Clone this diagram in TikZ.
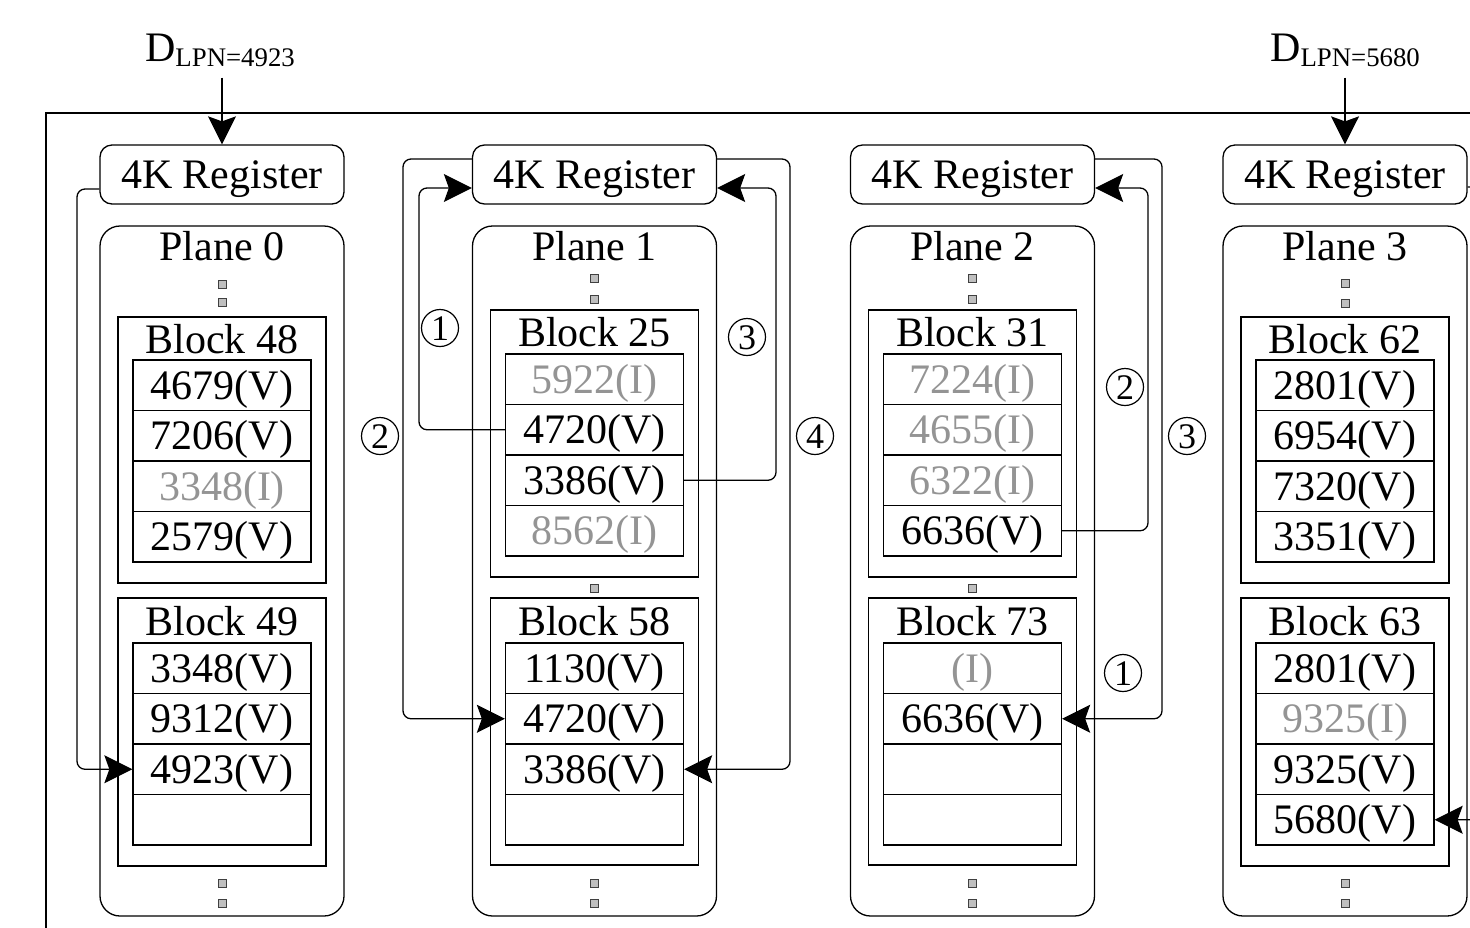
\documentclass[tikz,border=0pt]{standalone}
\usepackage{fontspec}
\setmainfont{Liberation Serif}
\usetikzlibrary{arrows.meta}
\newcommand\bigtxt{\fontsize{21}{25}\selectfont}
\newcommand\subtxt{\fontsize{13.4}{15}\selectfont}
\newcommand\circtxt{\fontsize{18}{20}\selectfont}
\definecolor{invgray}{gray}{0.58}
\definecolor{dotgray}{gray}{0.75}
\tikzset{
  wire/.style={line width=0.65pt, rounded corners=4pt},
  arr/.style={wire, -{Stealth[length=14pt,width=14pt,inset=2.5pt]}},
  reg/.style={draw, line width=0.65pt, rounded corners=6pt, minimum width=122pt, minimum height=29.5pt, inner sep=0pt, font=\bigtxt, text height=18.5pt, text depth=4.5pt},
  plane/.style={draw, line width=0.65pt, rounded corners=10pt, minimum width=122pt, minimum height=345pt, inner sep=0pt},
  blk/.style={draw, line width=0.65pt, minimum width=104pt, inner sep=0pt},
  cell/.style={draw, line width=0.65pt, minimum width=89pt, minimum height=25.25pt, inner sep=0pt, font=\bigtxt, text height=18.5pt, text depth=4.5pt},
  inv/.style={cell, text=invgray},
  dot/.style={draw=black!75, line width=0.5pt, fill=dotgray, minimum size=4pt, inner sep=0pt},
  num/.style={draw, circle, line width=0.6pt, minimum size=18.5pt, inner sep=0pt, font=\circtxt, text height=12pt, text depth=0pt},
  lbl/.style={font=\bigtxt, inner sep=0pt},
}
\begin{document}
\begin{tikzpicture}[x=0.5pt, y=-0.5pt]
\path[use as bounding box, clip] (0,0) rectangle (1470,927);

% outer frame of the chip
\draw[line width=0.65pt] (46,960) -- (46,113) -- (1500,113);

% incoming write requests
\node[lbl, anchor=base, inner ysep=5.5pt] (d0) at (220,61) {D\raisebox{-2.5pt}{\subtxt LPN=4923}};
\node[lbl, anchor=base, inner ysep=5.5pt] (d3) at (1345,61) {D\raisebox{-2.5pt}{\subtxt LPN=5680}};

% ---------------- Plane 0 ----------------
\node[reg] (r0) at (222,174.5) {4K Register};
\node[plane] (p0) at (222,571) {};
\node[lbl] (p0t) at (222,246) {Plane 0};
\node[dot] (p0d1) at (222,284) {};
\node[dot] (p0d2) at (222,302) {};
\node[blk, minimum height=133pt] (b48) at (222,450) {};
\node[lbl] (b48t) at (222,339) {Block 48};
\node[cell] (c0a1) at (222,385.25) {4679(V)};
\node[cell] (c0a2) at (222,435.75) {7206(V)};
\node[inv]  (c0a3) at (222,486.25) {3348(I)};
\node[cell] (c0a4) at (222,536.75) {2579(V)};
\node[blk, minimum height=134pt] (b49) at (222,732) {};
\node[lbl] (b49t) at (222,621) {Block 49};
\node[cell] (c0b1) at (222,668.25) {3348(V)};
\node[cell] (c0b2) at (222,718.75) {9312(V)};
\node[cell] (c0b3) at (222,769.25) {4923(V)};
\node[cell] (c0b4) at (222,819.75) {};
\node[dot] (p0d3) at (222,883) {};
\node[dot] (p0d4) at (222,903) {};

% ---------------- Plane 1 ----------------
\node[reg] (r1) at (594.5,174.5) {4K Register};
\node[plane] (p1) at (594.5,571) {};
\node[lbl] (p1t) at (594.5,246) {Plane 1};
\node[dot] (p1d1) at (594.5,278) {};
\node[dot] (p1d2) at (594.5,299) {};
\node[blk, minimum height=133.5pt] (b25) at (594.5,443.5) {};
\node[lbl] (b25t) at (594.5,332) {Block 25};
\node[inv]  (c1a1) at (594.5,379.25) {5922(I)};
\node[cell] (c1a2) at (594.5,429.75) {4720(V)};
\node[cell] (c1a3) at (594.5,480.25) {3386(V)};
\node[inv]  (c1a4) at (594.5,530.75) {8562(I)};
\node[dot] (p1d3) at (594.5,588) {};
\node[blk, minimum height=133.5pt] (b58) at (594.5,731.5) {};
\node[lbl] (b58t) at (594.5,621) {Block 58};
\node[cell] (c1b1) at (594.5,668.25) {1130(V)};
\node[cell] (c1b2) at (594.5,718.75) {4720(V)};
\node[cell] (c1b3) at (594.5,769.25) {3386(V)};
\node[cell] (c1b4) at (594.5,819.75) {};
\node[dot] (p1d4) at (594.5,883) {};
\node[dot] (p1d5) at (594.5,903) {};

% ---------------- Plane 2 ----------------
\node[reg] (r2) at (972.5,174.5) {4K Register};
\node[plane] (p2) at (972.5,571) {};
\node[lbl] (p2t) at (972.5,246) {Plane 2};
\node[dot] (p2d1) at (972.5,278) {};
\node[dot] (p2d2) at (972.5,299) {};
\node[blk, minimum height=133.5pt] (b31) at (972.5,443.5) {};
\node[lbl] (b31t) at (972.5,332) {Block 31};
\node[inv]  (c2a1) at (972.5,379.25) {7224(I)};
\node[inv]  (c2a2) at (972.5,429.75) {4655(I)};
\node[inv]  (c2a3) at (972.5,480.25) {6322(I)};
\node[cell] (c2a4) at (972.5,530.75) {6636(V)};
\node[dot] (p2d3) at (972.5,588) {};
\node[blk, minimum height=133.5pt] (b73) at (972.5,731.5) {};
\node[lbl] (b73t) at (972.5,621) {Block 73};
\node[inv]  (c2b1) at (972.5,668.25) {(I)};
\node[cell] (c2b2) at (972.5,718.75) {6636(V)};
\node[cell] (c2b3) at (972.5,769.25) {};
\node[cell] (c2b4) at (972.5,819.75) {};
\node[dot] (p2d4) at (972.5,883) {};
\node[dot] (p2d5) at (972.5,903) {};

% ---------------- Plane 3 ----------------
\node[reg] (r3) at (1345,174.5) {4K Register};
\node[plane] (p3) at (1345,571) {};
\node[lbl] (p3t) at (1345,246) {Plane 3};
\node[dot] (p3d1) at (1345,283) {};
\node[dot] (p3d2) at (1345,303) {};
\node[blk, minimum height=133pt] (b62) at (1345,450) {};
\node[lbl] (b62t) at (1345,339) {Block 62};
\node[cell] (c3a1) at (1345,385.25) {2801(V)};
\node[cell] (c3a2) at (1345,435.75) {6954(V)};
\node[cell] (c3a3) at (1345,486.25) {7320(V)};
\node[cell] (c3a4) at (1345,536.75) {3351(V)};
\node[blk, minimum height=134pt] (b63) at (1345,732) {};
\node[lbl] (b63t) at (1345,621) {Block 63};
\node[cell] (c3b1) at (1345,668.25) {2801(V)};
\node[inv]  (c3b2) at (1345,718.75) {9325(I)};
\node[cell] (c3b3) at (1345,769.25) {9325(V)};
\node[cell] (c3b4) at (1345,819.75) {5680(V)};
\node[dot] (p3d3) at (1345,883) {};
\node[dot] (p3d4) at (1345,903) {};

% ---------------- data paths ----------------
\draw[arr] (d0.south -| r0.north) -- (r0.north);
\draw[arr] (d3.south -| r3.north) -- (r3.north);

% plane 0: register -> block 49
\draw[arr] (r0.west |- 0,189) -| (c0b3.west -| 77,0) -- (c0b3.west);

% plane 1
\draw[arr] (c1a2.west) -| (419,188) -- (r1.west |- 0,188);
\draw[arr] (r1.west |- 0,159) -| (c1b2.west -| 403,0) -- (c1b2.west);
\draw[arr] (c1a3.east) -| (776,188) -- (r1.east |- 0,188);
\draw[arr] (r1.east |- 0,159) -| (c1b3.east -| 790,0) -- (c1b3.east);

% plane 2
\draw[arr] (c2a4.east) -| (1148,188) -- (r2.east |- 0,188);
\draw[arr] (r2.east |- 0,159) -| (c2b2.east -| 1162,0) -- (c2b2.east);

% plane 3
\draw[arr] (r3.east |- 0,187) -| (c3b4.east -| 1490,0) -- (c3b4.east);

% step numbers
\node[num] (n1a) at (440,328) {1};
\node[num] (n1b) at (380,436) {2};
\node[num] (n1c) at (747,337) {3};
\node[num] (n1d) at (815,436) {4};
\node[num] (n2a) at (1125,387) {2};
\node[num] (n2b) at (1187,436) {3};
\node[num] (n2c) at (1123,673) {1};
\end{tikzpicture}
\end{document}
